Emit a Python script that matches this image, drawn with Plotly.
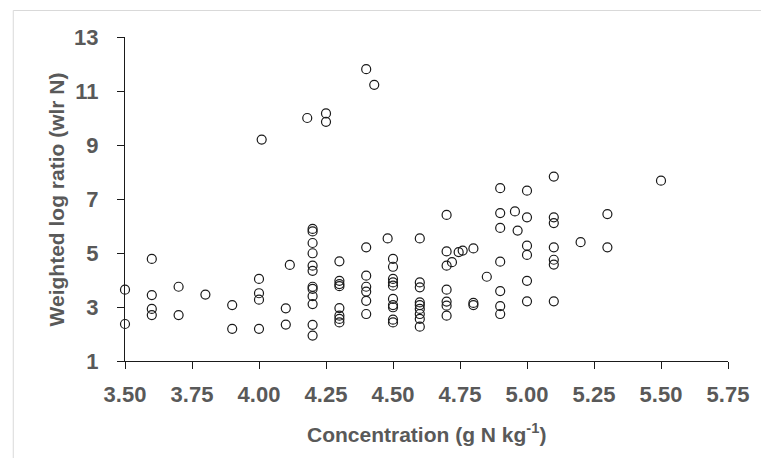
import plotly.graph_objects as go

# Concentration (g N kg-1) and weighted log ratio values, read column by column
conc = (
    [3.50] * 2 + [3.60] * 4 + [3.70] * 2 + [3.80] + [3.90] * 2 + [4.00] * 4 + [4.01]
    + [4.10] * 2 + [4.115] + [4.18] + [4.20] * 12 + [4.25] * 2 + [4.30] * 8
    + [4.40] * 7 + [4.43] + [4.48] + [4.50] * 10 + [4.60] * 9 + [4.70] * 7
    + [4.72] + [4.745] + [4.76] + [4.80] * 3 + [4.85] + [4.90] * 7 + [4.955] + [4.965]
    + [5.00] * 6 + [5.10] * 7 + [5.20] + [5.30] * 2 + [5.50]
)
wlr = [
    3.64, 2.37,
    4.78, 3.44, 2.93, 2.70,
    3.75, 2.70,
    3.46,
    3.07, 2.19,
    4.04, 3.51, 3.27, 2.19,
    9.20,
    2.95, 2.35,
    4.56,
    10.00,
    5.89, 5.80, 5.37, 4.99, 4.53, 4.34, 3.75, 3.67, 3.40, 3.11, 2.34, 1.94,
    10.17, 9.86,
    4.69, 3.97, 3.85, 3.77, 2.96, 2.68, 2.56, 2.43,
    11.81, 5.21, 4.16, 3.75, 3.57, 3.23, 2.74,
    11.23,
    5.54,
    4.78, 4.49, 4.04, 3.91, 3.79, 3.30, 3.07, 2.99, 2.53, 2.43,
    5.54, 3.91, 3.73, 3.17, 3.07, 2.93, 2.74, 2.56, 2.27,
    6.41, 5.06, 4.53, 3.64, 3.20, 3.05, 2.68,
    4.66,
    5.03,
    5.09,
    5.17, 3.15, 3.07,
    4.12,
    7.40, 6.48, 5.93, 4.68, 3.59, 3.03, 2.74,
    6.54,
    5.83,
    7.31, 6.32, 5.27, 4.93, 3.97, 3.21,
    7.83, 6.32, 6.11, 5.21, 4.75, 4.57, 3.21,
    5.40,
    6.44, 5.21,
    7.68,
]

x_ticks = [3.50, 3.75, 4.00, 4.25, 4.50, 4.75, 5.00, 5.25, 5.50, 5.75]
x_tick_labels = ["3.50", "3.75", "4.00", "4.25", "4.50", "4.75", "5.00", "5.25", "5.50", "5.75"]
y_ticks = [1, 3, 5, 7, 9, 11, 13]
y_tick_labels = ["1", "3", "5", "7", "9", "11", "13"]

FONT = "Liberation Sans, Arial, sans-serif"
GREY = "#595959"

fig = go.Figure()
fig.add_trace(go.Scatter(
    x=conc, y=wlr, mode="markers",
    marker=dict(symbol="circle-open", size=9, color="#1a1a1a", line=dict(width=1.2, color="#1a1a1a")),
    cliponaxis=False, showlegend=False,
))

# page body has an 8px margin, so the figure is sized/offset to fit the 769x466 window
fig.update_layout(
    width=753, height=450,
    margin=dict(l=117, r=29, t=29, b=97),
    paper_bgcolor="white", plot_bgcolor="white",
    font=dict(family=FONT, color=GREY),
    xaxis=dict(
        range=[3.5, 5.75], tickvals=x_ticks, ticktext=x_tick_labels,
        showgrid=False, zeroline=False, showline=True, linecolor="#1a1a1a", linewidth=1,
        ticks="outside", ticklen=7, tickcolor="#1a1a1a", tickwidth=1,
        tickfont=dict(family=FONT, size=22, color=GREY, weight="bold"),
        ticklabelstandoff=7,
    ),
    yaxis=dict(
        range=[1, 13], tickvals=y_ticks, ticktext=y_tick_labels,
        showgrid=False, zeroline=False, showline=True, linecolor="#1a1a1a", linewidth=1,
        ticks="outside", ticklen=7, tickcolor="#1a1a1a", tickwidth=1,
        tickfont=dict(family=FONT, size=22, color=GREY, weight="bold"),
        ticklabelstandoff=14,
    ),
    annotations=[
        dict(text="Concentration (g N kg<sup>-1</sup>)", xref="paper", yref="paper",
             x=0.5, y=-0.222, xanchor="center", yanchor="middle", showarrow=False,
             font=dict(family=FONT, size=21, color=GREY, weight="bold")),
        dict(text="Weighted log ratio (wlr N)", xref="paper", yref="paper",
             x=-0.1137, y=0.5, xanchor="center", yanchor="middle", showarrow=False,
             textangle=-90, font=dict(family=FONT, size=21, color=GREY, weight="bold")),
    ],
    shapes=[
        dict(type="rect", xref="paper", yref="paper", x0=-0.1853, x1=1.1, y0=-0.45, y1=1.0818,
             line=dict(color="#d9d9d9", width=1), fillcolor="rgba(0,0,0,0)", layer="below"),
    ],
)

fig.write_html("out.html")
